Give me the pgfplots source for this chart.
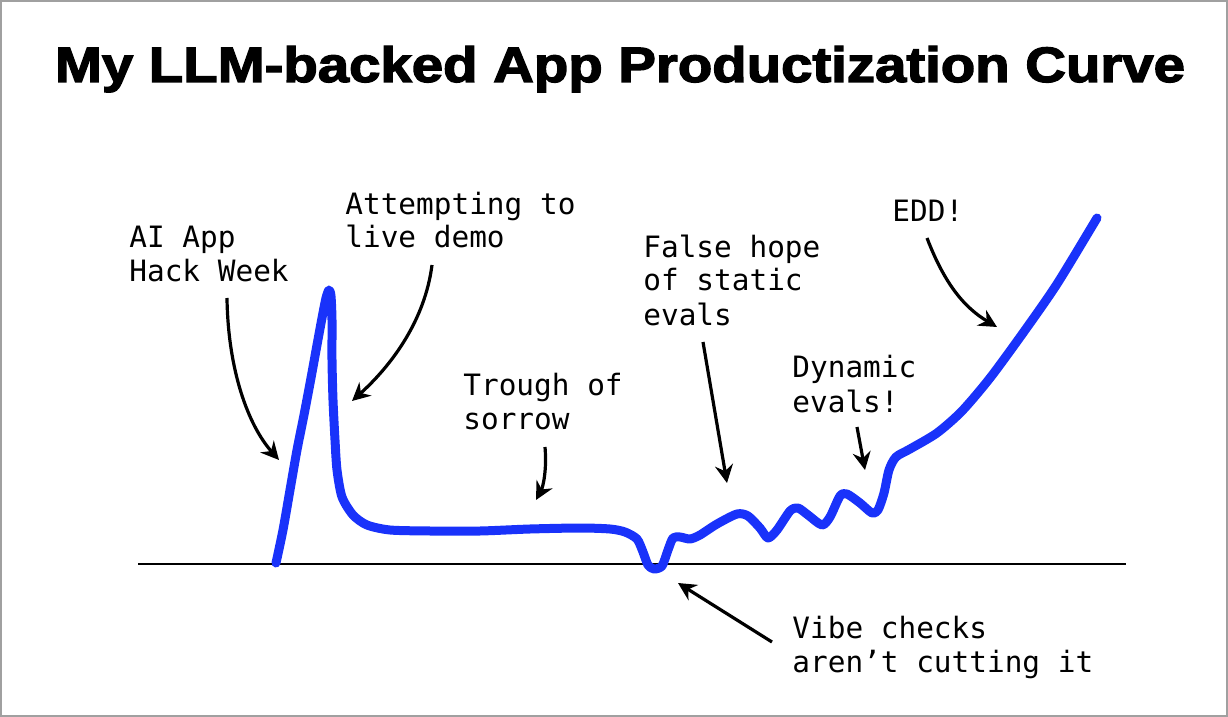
\documentclass[border=0pt]{standalone}
\usepackage{pgfplots}
\pgfplotsset{compat=1.18}
\usepackage{fontspec}
\usetikzlibrary{arrows.meta}
\setmainfont{Liberation Sans}
\newfontfamily\titlefont[FakeBold=2.5]{Liberation Sans}
\newfontfamily\monofont{DejaVu Sans Mono}
\definecolor{curveblue}{RGB}{25,50,250}
\definecolor{framegray}{RGB}{160,160,160}
\tikzset{lab/.style={anchor=base west, inner sep=0pt, font=\monofont\fontsize{14.7}{17}\selectfont},
  arr/.style={black, line width=1.6pt, -{Stealth[length=9pt, width=9pt, inset=3pt]}}}
\begin{document}
\begin{tikzpicture}
\begin{axis}[
  scale only axis, width=614pt, height=358.5pt,
  xmin=0, xmax=1228, ymin=0, ymax=717, y dir=reverse,
  hide axis, clip=false, at={(0,0)}, anchor=south west]
% frame
\draw[framegray, line width=1pt] (axis cs:1,1) rectangle (axis cs:1227,716);
% baseline
\addplot[black, line width=1pt, forget plot] coordinates {(138,564) (1126,564)};
% curve
\addplot[curveblue, line width=4.5pt, line cap=round, line join=round, smooth, tension=0.45] coordinates {
(276,563) (283,530) (290,490) (297,450) (304,415) (311,378) (317,345) (322,318) (326,298) (329,290)
(331,296) (332,320) (332,360) (333,400) (335,440) (337,470) (342,497) (353,515) (367,525) (390,530)
(430,531) (480,531) (530,529) (580,528) (610,529) (625,532) (637,539) (643,552) (648,565) (654,569)
(662,566) (668,550) (673,538) (680,537) (690,539) (700,535) (717,524) (737,514) (748,516) (760,528)
(768,538) (777,530) (790,511) (798,508) (808,515) (822,525) (830,517) (840,496) (847,494) (860,503)
(872,513) (878,510) (884,493) (889,470) (896,457) (910,449) (937,433) (962,411) (990,378) (1023,333)
(1057,284) (1097,218)};
% title
\node[anchor=base, inner sep=0pt] at (axis cs:620,82) {\resizebox{565pt}{18pt}{\titlefont\bfseries My LLM-backed App Productization Curve}};
% annotations
\node[lab] at (axis cs:129,248) {AI App};
\node[lab] at (axis cs:129,282) {Hack Week};
\node[lab] at (axis cs:345,214) {Attempting to};
\node[lab] at (axis cs:345,248) {live demo};
\node[lab] at (axis cs:463,395) {Trough of};
\node[lab] at (axis cs:463,429) {sorrow};
\node[lab] at (axis cs:643,257) {False hope};
\node[lab] at (axis cs:643,291) {of static};
\node[lab] at (axis cs:643,325) {evals};
\node[lab] at (axis cs:792,378) {Dynamic};
\node[lab] at (axis cs:792,412) {evals!};
\node[lab] at (axis cs:892,222) {EDD!};
\node[lab] at (axis cs:792,638) {Vibe checks};
\node[lab] at (axis cs:792,672) {aren’t cutting it};
% arrows
\draw[arr] (axis cs:227,298) .. controls (axis cs:228,370) and (axis cs:248,425) .. (axis cs:279,460);
\draw[arr] (axis cs:432,265) .. controls (axis cs:425,320) and (axis cs:392,365) .. (axis cs:352,401);
\draw[arr] (axis cs:545,447) .. controls (axis cs:547,470) and (axis cs:543,487) .. (axis cs:536,500);
\draw[arr] (axis cs:703,342) -- (axis cs:727,483);
\draw[arr] (axis cs:857,427) -- (axis cs:865,470);
\draw[arr] (axis cs:927,238) .. controls (axis cs:945,285) and (axis cs:965,308) .. (axis cs:997,327);
\draw[arr] (axis cs:772,642) -- (axis cs:678,583);
\end{axis}
\end{tikzpicture}
\end{document}
